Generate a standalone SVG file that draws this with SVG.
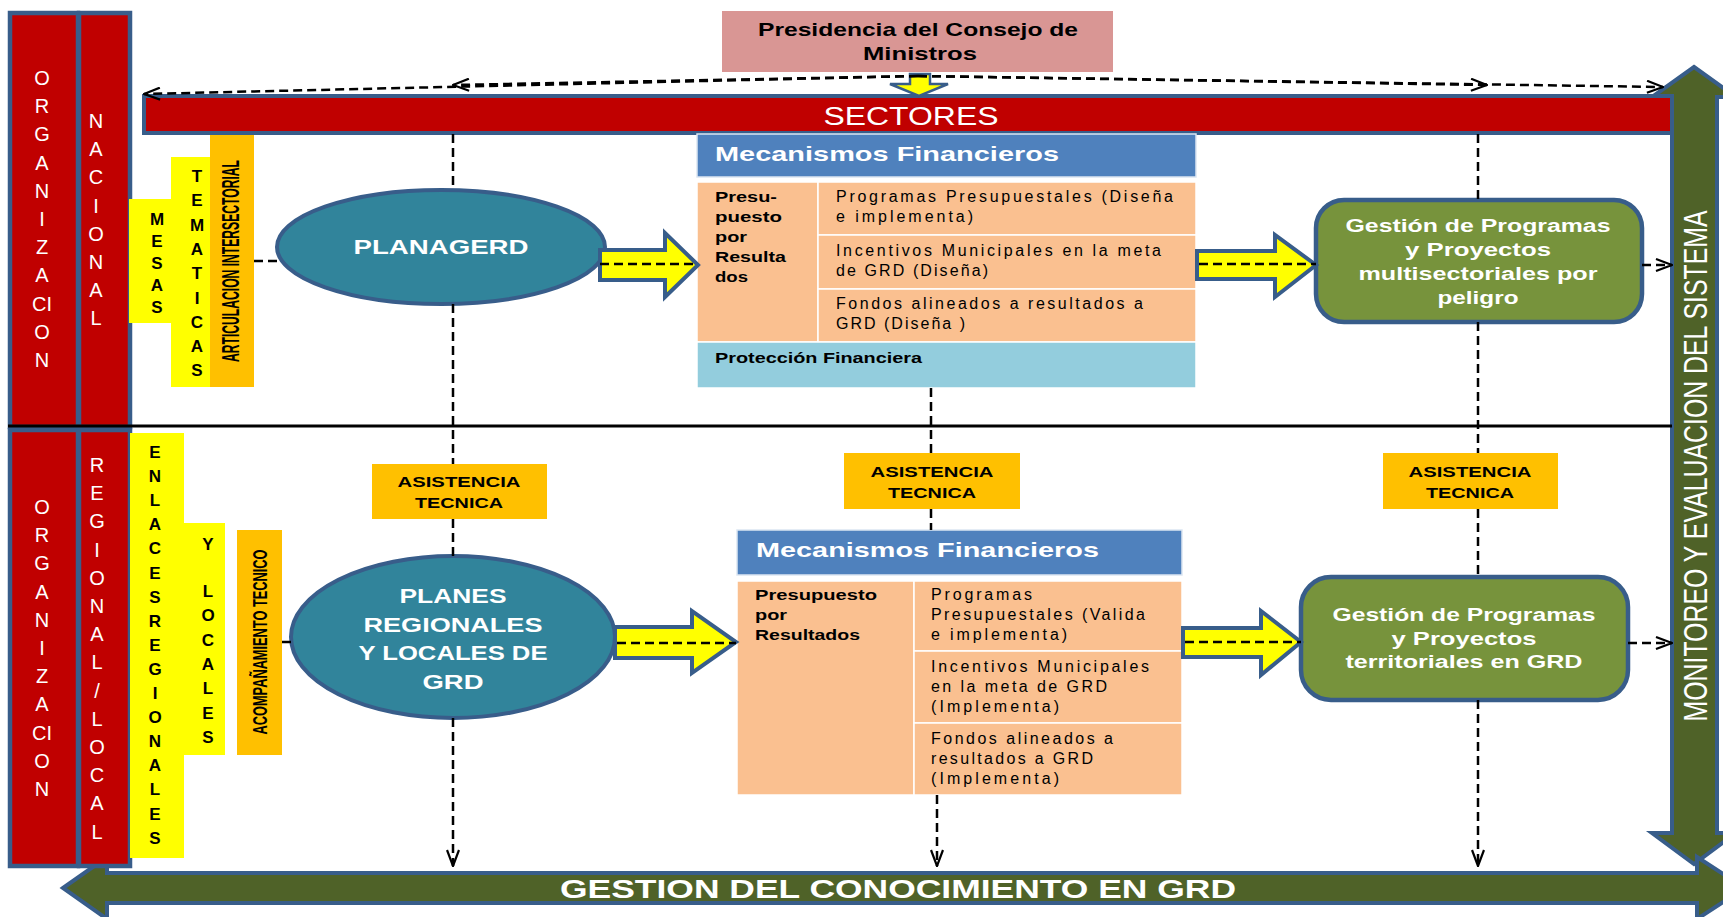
<svg xmlns="http://www.w3.org/2000/svg" width="1723" height="917" viewBox="0 0 1723 917">
<defs>
<marker id="ah" viewBox="0 0 18 14" refX="17" refY="7" markerWidth="18" markerHeight="14" orient="auto" markerUnits="userSpaceOnUse">
<path d="M1,1 L17,7 L1,13" fill="none" stroke="#000" stroke-width="2.2"/>
</marker>
</defs>
<style>
text { font-family: "Liberation Sans", Arial, sans-serif; }
.red { fill: #C00000; stroke: #385D8A; stroke-width: 4.5; }
.vl { font-size: 20px; fill: #fff; text-anchor: middle; }
.yl { font-size: 17px; font-weight: bold; fill: #000; text-anchor: middle; }
.yel { fill: #FFFF00; }
.org { fill: #FFC000; }
.dash { fill: none; stroke: #000; stroke-width: 2.5; stroke-dasharray: 9 5; }
.blk { fill: #FFFF00; stroke: #385D8A; stroke-width: 4; stroke-linejoin: miter; }
.ell { fill: #31849B; stroke: #385D8A; stroke-width: 4; }
.grn { fill: #77933C; stroke: #385D8A; stroke-width: 4.5; }
.wt { fill: #fff; font-weight: bold; text-anchor: middle; }
.hdr { fill: #4F81BD; stroke: #DCE6F2; stroke-width: 1.5; }
.cell { fill: #FAC090; stroke: #fff; stroke-width: 1.5; }
.ct { font-size: 16px; fill: #000; }
.cb { font-size: 15px; fill: #000; font-weight: bold; }
.as { font-size: 15px; font-weight: bold; fill: #000; text-anchor: middle; }
.dg { fill: #4F6228; stroke: #385D8A; stroke-width: 4; }
</style>
<rect x="0" y="0" width="1723" height="917" fill="#fff"/>

<g id="monitoreo">
<polygon class="dg" points="1694,67 1736,97 1717,97 1717,833 1736,833 1694,864 1652,833 1672,833 1672,97 1652,97"/>
<text transform="translate(1707,466) rotate(-90)" x="0" y="0" font-size="33" fill="#fff" text-anchor="middle" textLength="511" lengthAdjust="spacingAndGlyphs">MONITOREO Y EVALUACION DEL SISTEMA</text>
</g>

<g id="gestion-conocimiento">
<polygon class="dg" points="63,888 107,857 107,873 1697,873 1697,857 1745,888 1697,919 1697,903 107,903 107,919"/>
<text x="898" y="898" font-size="26" class="wt" textLength="676" lengthAdjust="spacingAndGlyphs">GESTION DEL CONOCIMIENTO EN GRD</text>
</g>

<g id="org-nacional">
<rect class="red" x="10" y="13" width="68" height="414"/>
<rect class="red" x="79" y="13" width="51" height="414"/>
<text class="vl"><tspan x="42" y="85">O</tspan><tspan x="42" y="113">R</tspan><tspan x="42" y="141">G</tspan><tspan x="42" y="170">A</tspan><tspan x="42" y="198">N</tspan><tspan x="42" y="226">I</tspan><tspan x="42" y="254">Z</tspan><tspan x="42" y="282">A</tspan><tspan x="42" y="311">CI</tspan><tspan x="42" y="339">O</tspan><tspan x="42" y="367">N</tspan></text>
<text class="vl"><tspan x="96" y="128">N</tspan><tspan x="96" y="156">A</tspan><tspan x="96" y="184">C</tspan><tspan x="96" y="213">I</tspan><tspan x="96" y="241">O</tspan><tspan x="96" y="269">N</tspan><tspan x="96" y="297">A</tspan><tspan x="96" y="325">L</tspan></text>
</g>

<g id="org-regional">
<rect class="red" x="10" y="430" width="68" height="436"/>
<rect class="red" x="79" y="430" width="51" height="436"/>
<text class="vl"><tspan x="42" y="514">O</tspan><tspan x="42" y="542">R</tspan><tspan x="42" y="570">G</tspan><tspan x="42" y="599">A</tspan><tspan x="42" y="627">N</tspan><tspan x="42" y="655">I</tspan><tspan x="42" y="683">Z</tspan><tspan x="42" y="711">A</tspan><tspan x="42" y="740">CI</tspan><tspan x="42" y="768">O</tspan><tspan x="42" y="796">N</tspan></text>
<text class="vl"><tspan x="97" y="472">R</tspan><tspan x="97" y="500">E</tspan><tspan x="97" y="528">G</tspan><tspan x="97" y="557">I</tspan><tspan x="97" y="585">O</tspan><tspan x="97" y="613">N</tspan><tspan x="97" y="641">A</tspan><tspan x="97" y="669">L</tspan><tspan x="97" y="698">/</tspan><tspan x="97" y="726">L</tspan><tspan x="97" y="754">O</tspan><tspan x="97" y="782">C</tspan><tspan x="97" y="810">A</tspan><tspan x="97" y="839">L</tspan></text>
</g>

<line x1="8" y1="426" x2="1672" y2="426" stroke="#000" stroke-width="3"/>

<g id="mesas">
<rect class="yel" x="129" y="199" width="42" height="124"/>
<text class="yl"><tspan x="157" y="225">M</tspan><tspan x="157" y="247">E</tspan><tspan x="157" y="269">S</tspan><tspan x="157" y="291">A</tspan><tspan x="157" y="313">S</tspan></text>
</g>
<g id="tematicas">
<rect class="yel" x="171" y="157" width="39" height="230"/>
<text class="yl"><tspan x="197" y="182">T</tspan><tspan x="197" y="206">E</tspan><tspan x="197" y="231">M</tspan><tspan x="197" y="255">A</tspan><tspan x="197" y="279">T</tspan><tspan x="197" y="304">I</tspan><tspan x="197" y="328">C</tspan><tspan x="197" y="352">A</tspan><tspan x="197" y="376">S</tspan></text>
</g>
<g id="articulacion">
<rect class="org" x="210" y="133" width="44" height="254"/>
<text transform="translate(239,261) rotate(-90)" x="0" y="0" font-size="24" font-weight="bold" fill="#000" text-anchor="middle" textLength="202" lengthAdjust="spacingAndGlyphs">ARTICULACION INTERSECTORIAL</text>
</g>

<g id="enlaces">
<rect class="yel" x="130" y="433" width="54" height="425"/>
<text class="yl"><tspan x="155" y="458">E</tspan><tspan x="155" y="482">N</tspan><tspan x="155" y="506">L</tspan><tspan x="155" y="530">A</tspan><tspan x="155" y="554">C</tspan><tspan x="155" y="579">E</tspan><tspan x="155" y="603">S</tspan><tspan x="155" y="627">R</tspan><tspan x="155" y="651">E</tspan><tspan x="155" y="675">G</tspan><tspan x="155" y="699">I</tspan><tspan x="155" y="723">O</tspan><tspan x="155" y="747">N</tspan><tspan x="155" y="771">A</tspan><tspan x="155" y="795">L</tspan><tspan x="155" y="820">E</tspan><tspan x="155" y="844">S</tspan></text>
</g>
<g id="y-locales">
<rect class="yel" x="184" y="523" width="41" height="232"/>
<text class="yl"><tspan x="208" y="550">Y</tspan><tspan x="208" y="597">L</tspan><tspan x="208" y="621">O</tspan><tspan x="208" y="646">C</tspan><tspan x="208" y="670">A</tspan><tspan x="208" y="694">L</tspan><tspan x="208" y="719">E</tspan><tspan x="208" y="743">S</tspan></text>
</g>
<g id="acompanamiento">
<rect class="org" x="237" y="530" width="45" height="225"/>
<text transform="translate(267,642) rotate(-90)" x="0" y="0" font-size="20" font-weight="bold" fill="#000" text-anchor="middle" textLength="185" lengthAdjust="spacingAndGlyphs">ACOMPAÑAMIENTO TECNICO</text>
</g>

<g id="presidencia">
<rect x="722" y="11" width="391" height="61" fill="#D99694"/>
<text x="918" y="36" font-size="19" font-weight="bold" fill="#000" text-anchor="middle" textLength="320" lengthAdjust="spacingAndGlyphs">Presidencia del Consejo de</text>
<text x="920" y="60" font-size="19" font-weight="bold" fill="#000" text-anchor="middle" textLength="114" lengthAdjust="spacingAndGlyphs">Ministros</text>
</g>

<g id="sectores">
<rect x="144" y="96" width="1528" height="37" fill="#C00000" stroke="#385D8A" stroke-width="4"/>
<text x="911" y="125" font-size="25" fill="#fff" text-anchor="middle" textLength="175" lengthAdjust="spacingAndGlyphs">SECTORES</text>
</g>

<g id="planagerd">
<ellipse class="ell" cx="441" cy="247" rx="164" ry="57"/>
<text x="441" y="254" font-size="21" class="wt" textLength="175" lengthAdjust="spacingAndGlyphs">PLANAGERD</text>
</g>

<g id="planes-regionales">
<ellipse class="ell" cx="453" cy="637" rx="162" ry="81"/>
<text x="453" y="603" font-size="21" class="wt" textLength="107" lengthAdjust="spacingAndGlyphs">PLANES</text>
<text x="453" y="632" font-size="21" class="wt" textLength="179" lengthAdjust="spacingAndGlyphs">REGIONALES</text>
<text x="453" y="660" font-size="21" class="wt" textLength="189" lengthAdjust="spacingAndGlyphs">Y LOCALES DE</text>
<text x="453" y="689" font-size="21" class="wt" textLength="61" lengthAdjust="spacingAndGlyphs">GRD</text>
</g>

<g id="mecanismos-nacional">
<rect class="hdr" x="697" y="134" width="499" height="43"/>
<text x="715" y="161" font-size="21" font-weight="bold" fill="#fff" textLength="344" lengthAdjust="spacingAndGlyphs">Mecanismos Financieros</text>
<rect class="cell" x="697" y="182" width="121" height="160"/>
<rect class="cell" x="818" y="182" width="378" height="53"/>
<rect class="cell" x="818" y="235" width="378" height="54"/>
<rect class="cell" x="818" y="289" width="378" height="53"/>
<rect x="697" y="342" width="499" height="46" fill="#93CDDD" stroke="#fff" stroke-width="1.5"/>
<text class="cb" x="715" y="202" textLength="62" lengthAdjust="spacingAndGlyphs">Presu-</text>
<text class="cb" x="715" y="222" textLength="67" lengthAdjust="spacingAndGlyphs">puesto</text>
<text class="cb" x="715" y="242" textLength="32" lengthAdjust="spacingAndGlyphs">por</text>
<text class="cb" x="715" y="262" textLength="71" lengthAdjust="spacingAndGlyphs">Resulta</text>
<text class="cb" x="715" y="282" textLength="33" lengthAdjust="spacingAndGlyphs">dos</text>
<text class="ct" x="836" y="202" textLength="337" lengthAdjust="spacing">Programas Presupuestales  (Diseña</text>
<text class="ct" x="836" y="222" textLength="137" lengthAdjust="spacing">e implementa)</text>
<text class="ct" x="836" y="256" textLength="325" lengthAdjust="spacing">Incentivos Municipales en la meta</text>
<text class="ct" x="836" y="276" textLength="152" lengthAdjust="spacing">de GRD (Diseña)</text>
<text class="ct" x="836" y="309" textLength="307" lengthAdjust="spacing">Fondos alineados a resultados a</text>
<text class="ct" x="836" y="329" textLength="129" lengthAdjust="spacing">GRD (Diseña )</text>
<text class="cb" x="715" y="363" textLength="207" lengthAdjust="spacingAndGlyphs">Protección Financiera</text>
</g>

<g id="mecanismos-regional">
<rect class="hdr" x="737" y="530" width="445" height="45"/>
<text x="756" y="557" font-size="21" font-weight="bold" fill="#fff" textLength="343" lengthAdjust="spacingAndGlyphs">Mecanismos Financieros</text>
<rect class="cell" x="737" y="581" width="177" height="214"/>
<rect class="cell" x="914" y="581" width="268" height="70"/>
<rect class="cell" x="914" y="651" width="268" height="72"/>
<rect class="cell" x="914" y="723" width="268" height="72"/>
<text class="cb" x="755" y="600" textLength="122" lengthAdjust="spacingAndGlyphs">Presupuesto</text>
<text class="cb" x="755" y="620" textLength="32" lengthAdjust="spacingAndGlyphs">por</text>
<text class="cb" x="755" y="640" textLength="105" lengthAdjust="spacingAndGlyphs">Resultados</text>
<text class="ct" x="931" y="600" textLength="101" lengthAdjust="spacing">Programas</text>
<text class="ct" x="931" y="620" textLength="214" lengthAdjust="spacing">Presupuestales (Valida</text>
<text class="ct" x="931" y="640" textLength="136" lengthAdjust="spacing">e implementa)</text>
<text class="ct" x="931" y="672" textLength="218" lengthAdjust="spacing">Incentivos Municipales</text>
<text class="ct" x="931" y="692" textLength="176" lengthAdjust="spacing">en la meta  de GRD</text>
<text class="ct" x="931" y="712" textLength="128" lengthAdjust="spacing">(Implementa)</text>
<text class="ct" x="931" y="744" textLength="182" lengthAdjust="spacing">Fondos alineados  a</text>
<text class="ct" x="931" y="764" textLength="162" lengthAdjust="spacing">resultados a  GRD</text>
<text class="ct" x="931" y="784" textLength="128" lengthAdjust="spacing">(Implementa)</text>
</g>

<g id="asistencia-1">
<rect class="org" x="372" y="464" width="175" height="55"/>
<text class="as" x="459" y="487" textLength="123" lengthAdjust="spacingAndGlyphs">ASISTENCIA</text>
<text class="as" x="459" y="508" textLength="88" lengthAdjust="spacingAndGlyphs">TECNICA</text>
</g>
<g id="asistencia-2">
<rect class="org" x="844" y="453" width="176" height="56"/>
<text class="as" x="932" y="477" textLength="123" lengthAdjust="spacingAndGlyphs">ASISTENCIA</text>
<text class="as" x="932" y="498" textLength="88" lengthAdjust="spacingAndGlyphs">TECNICA</text>
</g>
<g id="asistencia-3">
<rect class="org" x="1383" y="453" width="175" height="56"/>
<text class="as" x="1470" y="477" textLength="123" lengthAdjust="spacingAndGlyphs">ASISTENCIA</text>
<text class="as" x="1470" y="498" textLength="88" lengthAdjust="spacingAndGlyphs">TECNICA</text>
</g>

<g id="gestion-multisectorial">
<rect class="grn" x="1316" y="200" width="326" height="122" rx="28"/>
<text x="1478" y="232" font-size="18" class="wt" textLength="265" lengthAdjust="spacingAndGlyphs">Gestión de Programas</text>
<text x="1478" y="256" font-size="18" class="wt" textLength="146" lengthAdjust="spacingAndGlyphs">y  Proyectos</text>
<text x="1478" y="280" font-size="18" class="wt" textLength="239" lengthAdjust="spacingAndGlyphs">multisectoriales por</text>
<text x="1478" y="304" font-size="18" class="wt" textLength="81" lengthAdjust="spacingAndGlyphs">peligro</text>
</g>
<g id="gestion-territorial">
<rect class="grn" x="1301" y="577" width="327" height="123" rx="30"/>
<text x="1464" y="621" font-size="18" class="wt" textLength="263" lengthAdjust="spacingAndGlyphs">Gestión de Programas</text>
<text x="1464" y="645" font-size="18" class="wt" textLength="145" lengthAdjust="spacingAndGlyphs">y  Proyectos</text>
<text x="1464" y="668" font-size="18" class="wt" textLength="237" lengthAdjust="spacingAndGlyphs">territoriales en GRD</text>
</g>

<g id="connectors">
<polygon points="910,74 930,74 930,84 948,84 919,96 890,84 910,84" fill="#FFFF00" stroke="#385D8A" stroke-width="2.5"/>
<path class="dash" d="M918,76 L144,94" marker-end="url(#ah)"/>
<path class="dash" d="M918,76 L453,85" marker-end="url(#ah)"/>
<path class="dash" d="M918,76 L1487,85" marker-end="url(#ah)"/>
<path class="dash" d="M918,76 L1663,87" marker-end="url(#ah)"/>

<polygon class="blk" points="600,250 665,250 665,233 698,265 665,297 665,280 600,280"/>
<polygon class="blk" points="1197,251 1275,251 1275,235 1316,265 1275,297 1275,279 1197,279"/>
<polygon class="blk" points="615,627 692,627 692,611 736,642 692,673 692,658 615,658"/>
<polygon class="blk" points="1183,628 1261,628 1261,611 1301,642 1261,675 1261,657 1183,657"/>
<path class="dash" d="M600,264 L697,264"/>
<path class="dash" d="M1199,264 L1316,264"/>
<path class="dash" d="M617,643 L736,643"/>
<path class="dash" d="M1185,642 L1301,642"/>

<path class="dash" d="M254,261 L277,261"/>
<path class="dash" d="M282,642 L291,642"/>

<path class="dash" d="M453,134 L453,190"/>
<path class="dash" d="M453,304 L453,464"/>
<path class="dash" d="M453,519 L453,556"/>
<path class="dash" d="M453,718 L453,866" marker-end="url(#ah)"/>

<path class="dash" d="M931,388 L931,453"/>
<path class="dash" d="M931,509 L931,530"/>
<path class="dash" d="M937,795 L937,866" marker-end="url(#ah)"/>

<path class="dash" d="M1478,134 L1478,200"/>
<path class="dash" d="M1478,322 L1478,453"/>
<path class="dash" d="M1478,509 L1478,577"/>
<path class="dash" d="M1478,700 L1478,866" marker-end="url(#ah)"/>

<path class="dash" d="M1642,265 L1672,265" marker-end="url(#ah)"/>
<path class="dash" d="M1628,643 L1672,643" marker-end="url(#ah)"/>
</g>
</svg>
